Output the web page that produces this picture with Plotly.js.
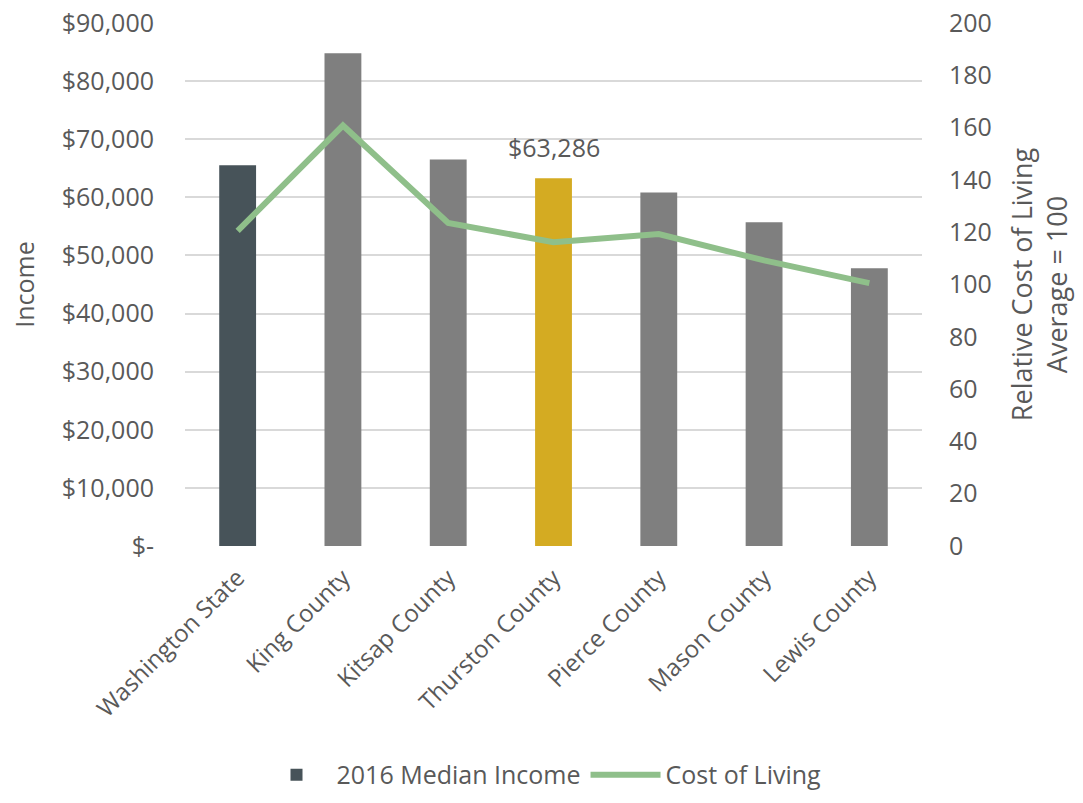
<!DOCTYPE html>
<html>
<head>
<meta charset="utf-8">
<script src="https://cdn.plot.ly/plotly-3.0.1.min.js"></script>
<style>
  html, body { margin: 0; padding: 0; background: #fff; }
  #chart { width: 1083px; height: 803px; }
</style>
</head>
<body>
<div id="chart"></div>
<script>
// Categories and values
const areas = ["Washington State", "King County", "Kitsap County", "Thurston County",
               "Pierce County", "Mason County", "Lewis County"];
const medianIncome = [65500, 84800, 66500, 63286, 60850, 55700, 47800];
const costOfLiving = [120.5, 160.8, 123.5, 116.2, 119.3, 109.2, 100.5];
const barColors = ["#475359", "#7f7f7f", "#7f7f7f", "#d4ab22", "#7f7f7f", "#7f7f7f", "#7f7f7f"];
const incomeTicks = [0, 10000, 20000, 30000, 40000, 50000, 60000, 70000, 80000, 90000];
const incomeTickText = ["$-", "$10,000", "$20,000", "$30,000", "$40,000", "$50,000",
                        "$60,000", "$70,000", "$80,000", "$90,000"];

const textColor = "#595959";
const fontFamily = "'Open Sans', 'Noto Sans', sans-serif";

const data = [
  {
    type: "bar",
    name: "2016 Median Income",
    x: areas,
    y: medianIncome,
    marker: { color: barColors },
    hoverinfo: "x+y"
  },
  {
    type: "scatter",
    mode: "lines",
    name: "Cost of Living",
    x: areas,
    y: costOfLiving,
    yaxis: "y2",
    line: { color: "#8fbf8a", width: 6 }
  }
];

const layout = {
  width: 1083,
  height: 803,
  margin: { l: 185, r: 161, t: 23, b: 257 },
  paper_bgcolor: "#fff",
  plot_bgcolor: "#fff",
  font: { family: fontFamily, size: 24, color: textColor },
  bargap: 0.65,
  showlegend: true,
  legend: {
    orientation: "h",
    x: 0.5, xanchor: "center", xref: "container",
    y: 0.035, yanchor: "middle", yref: "container",
    font: { size: 25, color: textColor },
    itemwidth: 70,
    traceorder: "normal"
  },
  xaxis: {
    type: "category",
    tickangle: -45,
    tickfont: { size: 24, color: textColor },
    showgrid: false,
    showline: false,
    ticks: "",
    ticklabelstandoff: 12,
    automargin: false
  },
  yaxis: {
    range: [0, 90000],
    tickvals: incomeTicks,
    ticktext: incomeTickText,
    tickfont: { size: 25, color: textColor },
    showgrid: true,
    gridcolor: "#d9d9d9",
    gridwidth: 2,
    zeroline: false,
    ticklabelstandoff: 30,
    automargin: false,
    title: { text: "Income", font: { size: 25, color: textColor }, standoff: 20 }
  },
  yaxis2: {
    overlaying: "y",
    side: "right",
    range: [0, 200],
    dtick: 20,
    tickfont: { size: 25, color: textColor },
    showgrid: false,
    zeroline: false,
    ticklabelstandoff: 26,
    automargin: false,
    title: {
      text: "Relative Cost of Living<br>Average = 100",
      font: { size: 27, color: textColor },
      standoff: 22
    }
  },
  annotations: [
    {
      x: areas[3],
      y: medianIncome[3],
      xref: "x",
      yref: "y",
      text: "$63,286",
      showarrow: false,
      yanchor: "bottom",
      yshift: 12,
      font: { size: 25, color: textColor }
    }
  ]
};

Plotly.newPlot("chart", data, layout, { displayModeBar: false, staticPlot: true });
</script>
</body>
</html>
